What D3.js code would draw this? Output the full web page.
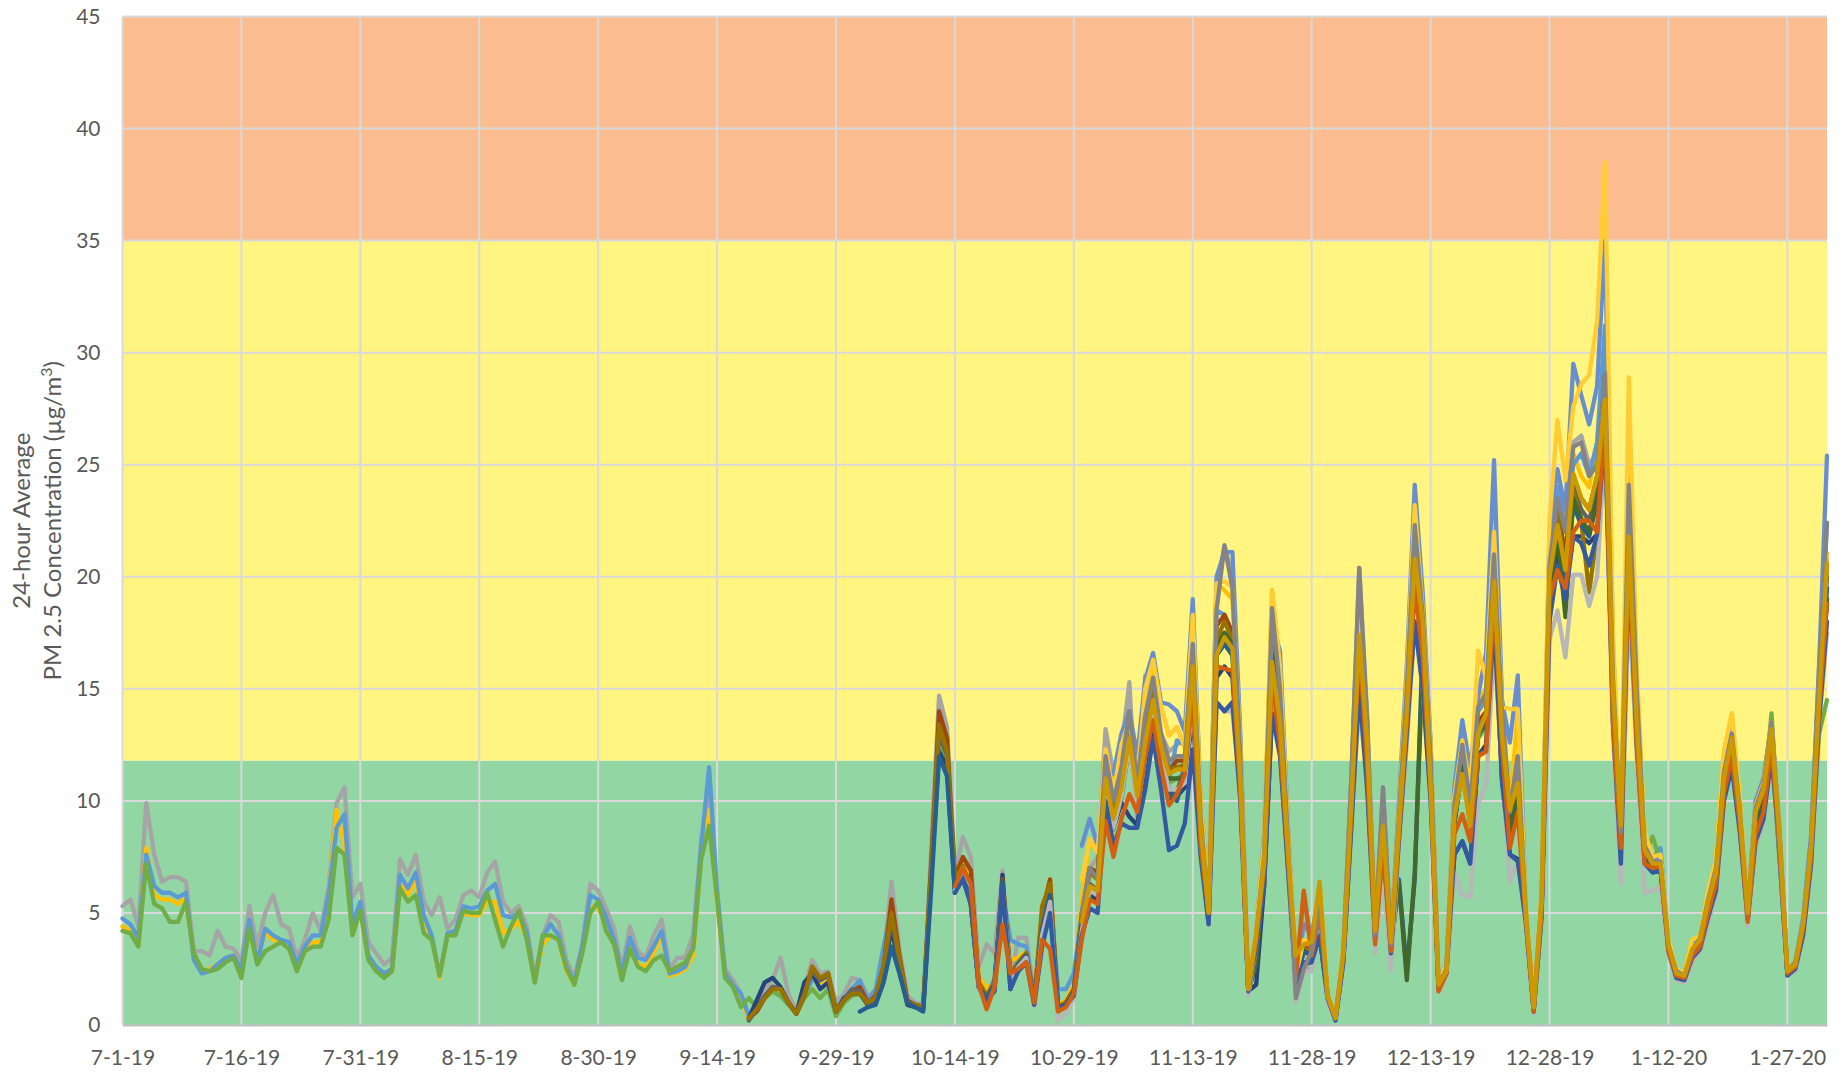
<!DOCTYPE html>
<html>
<head>
<meta charset="utf-8">
<script src="https://cdn.jsdelivr.net/npm/d3@7"></script>
<style>
  html, body { margin: 0; padding: 0; background: #fff; }
  svg text { font-family: Lato, "Open Sans", sans-serif; fill: #595959; }
</style>
</head>
<body>
<svg id="chart" width="1845" height="1074"></svg>
<script>
// tick labels
const xTickLabels = ["7-1-19", "7-16-19", "7-31-19", "8-15-19", "8-30-19", "9-14-19", "9-29-19",
  "10-14-19", "10-29-19", "11-13-19", "11-28-19", "12-13-19", "12-28-19", "1-12-20", "1-27-20"];
const yTicks = [0, 5, 10, 15, 20, 25, 30, 35, 40, 45];

// air quality bands (lower, upper)
const bandLimits = [[0, 11.8], [11.8, 35], [35, 45]];
const bandColors = ["#92D6A4", "#FFF580", "#FBBC8F"];

// first day of data and last day of axis
const firstDay = "7-1-19";
const lastDay = "2-1-20";

// daily 24-hour averages, one array per sensor, starting at the given day index
const s3 = [ // from day 0
  5.3,5.6,4.4,9.9,7.6,6.4,6.6,6.6,6.4,3.3,
  3.3,3.1,4.2,3.5,3.4,2.9,5.3,3.5,5.0,5.8,
  4.5,4.3,3.0,3.8,5.0,4.2,6.2,9.9,10.6,5.7,
  6.3,3.7,3.2,2.7,3.0,7.4,6.7,7.6,5.5,4.9,
  5.7,4.3,4.7,5.8,6.0,5.7,6.8,7.3,5.5,5.0,
  5.3,4.4,2.1,4.0,4.9,4.6,2.9,2.1,3.6,6.3,
  6.0,5.2,4.3,2.5,4.4,3.3,3.0,4.0,4.7,2.5,
  3.0,3.0,4.1,8.3,10.4,6.0,2.5,2.0,1.4,
  0.4,1.0,1.6,2.0,3.0,1.4,0.6,1.6,2.9,2.3,
  2.4,1.0,1.4,2.1,2.0,1.3,1.5,3.0,6.4,3.4,
  1.3,1.0,0.9,7.8,14.7,13.3,6.8,8.4,7.5,2.6,
  3.6,3.2,6.9,2.0,3.9,3.9,1.3,4.6,5.8,0.2,
  0.5,1.3,4.5,7.0,7.5,13.2,11.2,12.3,15.3,9.0,
  15.6,14.8,13.0,12.2,12.5,12.8,18.0,9.5,5.0,19.5,
  21.4,20.0,12.5,1.6,4.2,8.0,18.6,15.5,8.5,1.1,
  2.5,2.5,5.5,1.1,0.3,3.4,11.0,20.4,13.8,4.2,
  10.6,3.6,9.5,15.5,22.3,18.5,12.5,1.8,2.4,9.8,
  12.8,9.8,14.5,15.0,22.0,14.5,9.5,12.0,5.0,0.8,
  5.8,21.0,24.0,22.5,26.0,26.3,25.0,25.5,29.1,16.0,
  8.5,24.1,15.0,8.0,7.3,7.3,3.6,2.4,2.2,3.3,
  3.9,5.8,7.2,11.5,13.0,9.8,5.2,10.0,11.0,13.5,
  8.5,2.4,2.8,4.6,8.2,16.0,22.4];

const s4 = [ // from day 0
  4.4,4.2,3.6,7.9,5.8,5.6,5.6,5.4,5.7,3.0,
  2.4,2.5,2.7,3.0,3.1,2.4,4.3,3.0,4.1,3.8,
  3.7,3.6,2.6,3.3,3.7,3.7,5.8,9.6,8.0,4.3,
  5.3,3.0,2.5,2.2,2.4,6.4,5.8,6.4,4.7,3.9,
  2.1,4.1,4.2,5.0,4.9,4.9,5.5,5.5,4.1,4.3,
  4.6,3.9,1.9,3.6,4.0,3.8,2.4,1.8,3.3,5.3,
  5.2,4.6,3.6,2.1,3.5,2.7,2.6,3.2,4.0,2.2,
  2.3,2.5,3.1,7.6,9.6,5.5,2.2,1.8,1.1,
  0.3,0.8,1.3,1.6,1.5,1.0,0.5,1.3,2.4,1.9,
  2.1,0.5,1.0,1.4,1.5,0.8,1.1,2.3,4.8,2.8,
  1.0,0.9,0.8,7.0,13.8,12.6,6.4,7.4,6.5,2.2,
  1.6,2.0,6.5,2.9,3.0,3.3,1.4,5.0,6.5,0.9,
  1.1,1.8,5.6,8.3,7.7,12.3,10.3,12.5,13.6,11.0,
  14.0,16.3,14.2,12.9,13.3,12.4,18.3,10.0,5.4,19.7,
  19.4,19.0,12.5,1.7,4.2,8.0,19.4,16.0,8.5,2.2,
  3.8,3.5,5.8,1.3,0.3,3.3,10.5,19.5,13.0,4.2,
  9.6,3.7,9.5,15.5,23.2,18.5,12.5,1.9,2.5,10.0,
  12.7,10.0,14.5,15.0,21.0,14.0,9.8,13.9,5.3,0.9,
  5.8,21.5,24.0,22.0,25.5,24.5,24.0,26.0,30.0,15.5,
  8.8,24.0,14.5,8.2,7.3,7.4,3.6,2.4,2.3,3.8,
  4.0,5.9,7.3,12.2,13.9,10.0,5.1,9.8,10.8,13.5,
  8.7,2.5,2.8,4.7,8.2,15.5,21.0];

const s5 = [ // from day 0
  4.75,4.5,3.9,7.6,6.2,5.9,5.9,5.7,5.9,2.9,
  2.3,2.4,2.7,3.0,3.1,2.5,4.7,2.8,4.3,4.0,
  3.8,3.7,2.7,3.5,4.0,4.0,5.8,8.8,9.4,4.5,
  5.5,3.1,2.6,2.3,2.5,6.7,6.1,6.8,4.9,4.0,
  2.2,4.1,4.2,5.3,5.2,5.3,6.0,6.3,4.9,4.8,
  5.0,4.1,1.9,3.9,4.5,4.0,2.6,1.9,3.5,5.8,
  5.6,4.8,3.8,2.3,3.9,3.0,2.9,3.5,4.2,2.3,
  2.4,2.6,3.5,8.0,11.5,5.9,2.3,1.8,1.4,
  0.4,0.9,1.3,1.5,1.3,1.0,0.5,1.4,2.0,2.0,
  2.2,0.7,1.2,1.6,2.0,1.1,1.6,3.5,5.2,3.0,
  1.1,0.9,0.8,7.2,13.8,12.5,6.4,6.9,6.3,1.9,
  1.2,2.1,6.0,3.8,3.6,3.5,1.3,4.2,5.7,1.6,
  1.6,2.3,5.0,7.0,6.5,11.5,9.4,11.5,14.0,11.0,
  13.5,15.0,12.5,10.9,12.7,12.5,17.0,9.2,5.2,18.5,
  18.3,17.5,11.5,1.6,4.0,7.8,18.0,15.0,8.3,2.0,
  5.9,3.5,5.6,1.3,0.4,3.3,10.2,19.0,13.0,4.1,
  9.8,3.6,9.2,15.0,22.0,18.0,12.0,1.8,2.5,9.8,
  12.5,10.0,14.0,14.5,21.0,13.8,9.5,12.0,5.1,0.8,
  5.6,20.5,24.0,22.0,25.0,25.5,24.5,26.0,31.2,16.5,
  8.6,25.0,14.5,8.0,7.4,7.9,3.6,2.4,2.2,3.3,
  3.9,5.6,6.9,11.2,13.0,9.6,5.1,9.6,10.6,13.3,
  8.6,2.4,2.7,4.5,8.0,15.0,21.0];

const s6 = [ // from day 0
  4.2,4.1,3.5,7.2,5.4,5.2,4.6,4.6,5.5,3.2,
  2.5,2.4,2.5,2.8,3.0,2.1,4.3,2.7,3.3,3.5,
  3.7,3.4,2.4,3.3,3.5,3.5,4.7,7.9,7.6,4.0,
  5.1,2.9,2.4,2.1,2.4,6.1,5.5,5.8,4.1,3.8,
  2.2,4.0,4.0,5.1,5.0,5.0,5.9,4.7,3.5,4.4,
  5.1,3.8,1.9,4.0,4.0,3.8,2.5,1.8,3.2,5.0,
  5.5,4.2,3.6,2.0,3.4,2.6,2.4,2.9,3.1,2.4,
  2.6,2.8,3.4,7.4,8.9,5.6,2.1,1.7,0.8,
  1.2,0.8,1.2,1.5,1.3,0.9,0.5,1.2,1.6,1.2,
  1.6,0.4,1.0,1.3,1.4,0.9,1.1,2.3,4.7,2.8,
  1.0,0.9,0.8,6.7,12.8,11.7,6.0,6.8,6.1,1.8,
  1.3,1.9,6.2,2.3,2.7,3.1,1.0,4.3,5.6,0.9,
  0.9,1.5,4.0,5.8,5.8,10.3,8.7,10.0,12.6,9.8,
  12.2,14.0,12.0,10.8,11.0,11.2,15.6,8.5,4.8,16.5,
  17.0,16.5,11.0,1.5,3.8,7.2,16.5,13.2,7.6,1.9,
  3.3,3.1,5.2,1.2,0.3,3.0,9.5,17.0,11.8,3.8,
  8.6,3.4,8.5,13.8,19.8,16.5,11.0,1.7,2.4,9.0,
  11.4,9.0,12.8,13.3,19.4,12.8,8.5,10.5,4.8,0.7,
  5.2,19.0,21.8,20.0,23.5,22.5,22.0,23.5,27.8,14.3,
  7.4,22.0,13.5,7.6,8.4,7.3,3.4,2.2,2.1,3.2,
  3.6,5.3,6.5,10.5,12.3,9.1,4.8,9.1,10.1,13.9,
  8.2,2.3,2.6,4.3,7.7,13.0,14.5];

const s7 = [ // from day 79
  0.3,1.1,1.9,2.1,1.7,1.0,0.5,1.9,2.3,1.6,
  1.9,0.6,1.2,1.4,1.4,0.9,1.1,2.0,4.4,2.4,
  0.9,0.8,0.7,6.6,12.2,11.5,5.9,6.6,5.4,1.7,
  1.1,1.6,6.7,1.6,2.6,3.0,0.9,3.8,5.5,0.7,
  0.9,1.4,4.2,5.8,5.5,10.8,8.8,9.9,9.3,8.9,
  11.5,13.0,11.5,10.0,10.2,10.6,14.0,8.0,4.5,15.5,
  16.0,15.5,10.5,1.5,1.8,6.2,13.9,12.5,7.2,1.8,
  2.8,2.8,4.0,1.2,0.2,2.9,9.0,16.0,11.0,4.0,
  8.2,3.3,8.3,13.5,18.0,15.5,10.5,1.7,2.4,7.6,
  8.2,7.2,12.0,12.5,18.5,10.9,7.6,7.4,4.8,0.7,
  5.0,18.5,21.0,19.5,21.8,21.8,21.5,21.9,26.5,14.0,
  7.2,21.0,13.0,7.2,7.2,7.0,3.4,2.2,2.1,3.1,
  3.5,5.0,6.3,10.3,12.0,9.0,4.6,8.8,9.8,12.5,
  7.5,2.3,2.6,4.3,7.5,14.0,19.0];

const s8 = [ // from day 79
  0.3,0.6,1.2,1.7,1.6,1.0,0.5,1.3,2.6,2.0,
  2.3,0.6,1.1,1.5,1.7,1.0,1.3,2.6,5.6,3.1,
  1.1,0.9,0.8,7.2,14.0,12.8,6.6,7.5,6.9,1.9,
  1.3,1.9,6.5,2.2,2.8,3.2,1.1,5.0,6.5,0.8,
  1.0,1.6,4.8,7.0,6.8,11.8,9.5,11.0,13.0,10.5,
  13.0,15.0,12.5,11.3,11.8,11.8,16.5,9.0,5.0,17.8,
  18.3,17.5,11.5,1.6,4.0,7.5,17.5,14.0,8.0,2.0,
  3.5,3.3,5.5,1.3,0.3,3.2,10.0,18.0,12.5,4.0,
  9.0,3.5,9.0,14.5,21.0,17.5,11.5,1.8,2.5,9.5,
  12.0,9.5,13.5,14.0,20.5,13.5,9.0,11.0,5.0,0.8,
  5.5,20.0,23.0,21.0,24.5,23.5,23.0,24.5,29.0,15.0,
  8.5,23.0,14.0,8.0,7.2,7.2,3.5,2.3,2.2,3.3,
  3.8,5.5,6.8,11.0,12.8,9.5,5.0,9.5,10.5,13.2,
  8.5,2.4,2.7,4.5,8.0,15.0,21.0];

const s9 = [ // from day 79
  0.2,0.7,1.3,1.7,1.6,1.0,0.5,1.4,2.4,2.0,
  2.2,0.6,1.1,1.6,1.5,0.9,1.2,2.4,4.7,2.8,
  1.0,0.9,0.8,6.8,13.0,12.0,6.1,6.8,5.4,1.8,
  1.2,1.8,6.3,2.2,2.7,3.1,1.0,4.4,5.9,0.8,
  1.0,1.5,4.6,6.3,6.0,11.2,9.2,10.7,13.0,10.2,
  12.6,14.6,12.4,10.2,10.4,11.5,16.0,8.8,4.9,17.0,
  17.5,17.0,11.2,1.6,3.9,7.3,17.0,13.6,7.8,1.9,
  3.3,3.2,5.4,1.3,0.3,3.1,9.7,17.5,12.2,3.9,
  8.8,3.4,8.7,14.0,20.5,17.0,11.2,1.7,2.4,9.2,
  11.6,9.2,13.0,13.6,20.0,13.0,8.8,10.7,4.9,0.7,
  5.4,19.5,22.5,20.5,24.0,23.0,22.5,24.0,28.3,14.6,
  8.2,22.5,13.6,7.8,7.1,7.1,3.4,2.2,2.1,3.2,
  3.7,5.3,6.6,10.7,12.5,9.2,4.8,9.2,10.2,12.8,
  8.2,2.3,2.6,4.4,7.8,14.5,20.0];

const s10 = [ // from day 79
  0.3,0.7,1.2,1.6,1.6,1.0,0.5,1.3,2.6,2.1,
  2.3,0.6,1.1,1.4,1.4,1.0,1.2,2.7,5.0,3.0,
  1.0,0.9,0.8,7.0,13.4,12.2,6.5,7.1,6.2,1.9,
  1.3,1.9,6.4,2.3,2.8,3.2,1.1,5.3,6.3,0.8,
  1.0,1.6,4.9,6.8,6.5,11.5,9.8,11.2,13.2,10.6,
  13.2,15.2,12.6,11.4,11.5,11.6,16.3,8.8,5.0,17.2,
  18.0,17.2,11.3,1.6,4.0,7.4,17.3,13.8,7.9,2.0,
  3.4,3.3,5.5,1.3,0.3,3.2,9.8,17.8,12.3,4.0,
  8.9,3.5,8.8,14.3,20.8,17.3,11.3,1.8,2.5,9.4,
  11.8,9.3,13.3,13.8,20.2,13.3,8.9,10.8,5.0,0.8,
  5.4,19.8,22.8,20.3,23.8,22.5,19.3,22.0,28.0,14.8,
  8.4,22.8,13.8,7.9,7.1,7.1,3.5,2.3,2.2,3.3,
  3.8,5.4,6.7,10.8,12.6,9.4,4.9,9.4,10.4,13.0,
  8.4,2.4,2.7,4.4,7.9,14.8,20.5];

const s11 = [ // from day 93
  0.6,0.8,0.9,1.9,3.5,2.3,
  1.0,0.8,0.6,6.0,12.0,11.1,5.9,6.8,6.0,1.7,
  1.2,1.8,6.4,2.0,2.7,3.1,1.0,4.3,5.8,0.8,
  0.9,1.5,4.5,6.2,5.9,11.0,9.0,10.5,12.8,10.0,
  12.5,14.3,12.2,10.5,10.0,11.2,15.5,8.5,4.7,16.5,
  17.0,16.5,11.0,1.5,3.8,7.0,16.5,13.3,7.6,1.9,
  3.3,3.1,5.2,1.2,0.3,3.0,9.5,17.2,12.0,3.9,
  8.6,3.4,6.5,2.4,6.5,17.0,11.0,1.7,2.4,9.0,
  11.5,9.0,13.0,13.4,19.5,12.8,8.6,10.4,4.8,0.7,
  5.2,19.2,22.0,19.8,23.2,22.3,21.8,23.4,27.5,14.3,
  8.0,22.0,13.3,7.6,7.0,7.0,3.3,2.2,2.1,3.1,
  3.6,5.2,6.5,10.5,12.2,9.0,4.7,9.0,10.0,12.6,
  8.0,2.3,2.6,4.3,7.6,14.3,19.5];

const s12 = [ // from day 121
  5.0,6.0,5.8,10.8,8.8,10.2,12.5,9.8,12.2,14.2,
  12.0,11.0,11.0,11.0,15.8,8.6,4.8,16.8,17.5,17.0,
  11.0,1.5,2.7,6.8,16.5,13.5,7.6,1.9,2.7,2.8,
  5.2,1.2,0.3,3.0,9.5,17.2,12.0,3.9,8.8,3.4,
  6.4,2.0,6.8,16.0,11.0,1.7,2.4,9.0,11.5,9.0,
  13.0,13.5,19.8,12.8,8.6,10.5,4.8,0.7,5.2,19.0,
  22.0,18.2,23.5,22.6,22.0,23.5,28.0,14.5,8.2,22.0,
  13.5,7.7,7.0,7.0,3.4,2.2,2.1,3.2,3.7,5.3,
  6.5,10.5,12.3,9.2,4.8,9.2,10.2,13.0,8.2,2.3,
  2.6,4.3,7.7,14.0,19.0];

const s13 = [ // from day 121
  8.0,9.2,8.0,11.5,11.2,13.0,14.0,12.0,15.4,16.6,
  14.4,14.3,14.0,13.1,19.0,10.0,5.5,20.0,21.1,21.1,
  13.0,1.7,4.2,8.5,17.9,16.7,9.0,2.2,4.5,4.0,
  6.0,1.4,0.3,3.4,11.0,19.5,13.5,4.2,9.8,3.8,
  10.0,16.0,24.1,19.3,12.6,1.9,2.6,10.6,13.6,11.4,
  14.7,16.6,25.2,14.5,12.6,15.6,5.2,0.8,5.8,22.0,
  24.8,23.0,29.5,28.1,26.8,28.5,35.0,17.0,8.6,24.0,
  15.0,8.0,7.3,7.5,3.6,2.4,2.3,3.5,4.0,5.8,
  7.0,11.5,13.3,10.0,5.2,10.0,11.0,13.5,8.8,2.5,
  2.8,4.8,8.5,16.0,25.4];

const s15 = [ // from day 105
  6.0,7.0,6.2,1.6,
  1.0,1.6,6.0,2.0,2.6,3.0,0.8,4.0,5.5,0.2,
  0.5,1.2,4.2,6.0,5.8,10.5,8.8,10.2,12.5,9.5,
  12.0,13.8,12.0,10.5,10.5,10.8,14.5,8.3,4.5,14.4,
  14.0,14.0,10.5,1.3,3.5,6.5,15.0,12.5,7.0,1.0,
  2.4,2.4,4.8,1.0,0.2,2.8,9.0,14.3,11.0,3.2,
  6.8,2.4,8.0,12.5,18.0,15.0,10.0,1.5,2.2,6.8,
  5.8,5.7,9.9,10.7,17.0,11.5,6.4,7.3,4.5,0.5,
  4.8,17.2,18.5,16.4,20.1,20.1,18.7,20.0,26.0,13.0,
  6.3,19.0,12.0,5.9,6.0,6.2,3.2,2.0,1.9,2.8,
  3.3,4.6,5.8,10.0,12.0,8.5,4.4,8.0,9.0,12.0,
  7.8,2.2,2.4,4.0,7.0,13.5,17.5];

const s16 = [ // from day 121
  6.5,8.3,7.7,12.3,10.3,12.5,13.6,11.0,15.0,16.3,
  14.2,12.9,13.3,12.4,18.3,10.0,5.4,19.7,19.8,19.5,
  12.5,1.7,4.2,8.3,19.4,16.0,8.8,2.2,3.8,3.6,
  6.3,1.4,0.4,3.5,10.5,19.5,13.0,4.2,9.6,3.8,
  9.6,15.5,23.2,18.5,12.5,2.0,2.6,10.2,12.7,10.5,
  16.7,15.5,22.0,14.2,14.1,14.1,5.3,0.9,6.0,22.5,
  27.0,24.3,27.6,28.6,29.0,31.4,38.5,17.5,9.0,28.9,
  16.0,8.6,7.5,7.6,3.8,2.5,2.3,3.8,4.0,6.0,
  7.4,12.2,13.9,10.2,5.2,9.8,10.8,13.5,8.7,2.5,
  2.8,4.6,8.0,15.0,21.0];

const s19 = [ // from day 105
  5.9,6.5,5.4,1.7,
  1.1,1.5,6.2,1.6,2.4,2.8,0.9,3.5,5.0,0.7,
  0.9,1.3,4.0,5.2,5.0,10.0,8.0,9.0,8.8,8.8,
  10.5,12.8,10.5,7.8,8.0,9.0,12.3,7.5,4.5,14.4,
  14.0,14.4,10.0,1.5,3.5,6.2,13.9,12.0,7.0,1.8,
  2.8,2.8,4.0,1.2,0.2,2.8,8.8,15.0,10.5,3.8,
  8.0,3.2,8.2,13.0,18.0,15.0,10.0,1.6,2.3,7.6,
  8.2,7.2,12.0,12.3,18.0,11.0,7.6,7.3,4.6,0.6,
  4.8,18.0,20.5,19.0,21.8,21.5,20.5,21.9,26.5,13.5,
  7.2,20.5,12.5,7.2,6.8,6.9,3.3,2.1,2.0,3.0,
  3.4,4.8,6.0,10.0,11.5,8.6,4.7,8.2,9.2,12.0,
  8.0,2.2,2.5,4.0,7.2,13.5,18.0];

const s20 = [ // from day 105
  6.2,7.0,6.3,1.8,
  0.7,1.7,4.5,2.3,2.5,2.8,1.0,3.8,3.4,0.6,
  0.8,1.4,3.8,5.6,5.4,9.1,7.5,9.2,10.3,9.5,
  12.0,13.6,11.5,9.8,10.3,11.2,14.7,8.0,5.0,16.0,
  15.9,15.8,10.5,1.6,3.8,7.0,15.5,12.5,7.5,2.0,
  6.0,3.1,5.0,1.3,0.3,3.1,9.5,17.0,11.5,3.6,
  8.0,3.3,8.5,13.5,19.5,16.5,10.5,1.5,2.3,8.5,
  9.4,8.2,12.0,12.2,19.0,12.5,7.9,9.5,4.8,0.6,
  5.0,19.0,20.3,19.5,22.0,22.5,22.5,22.0,27.0,13.5,
  7.9,21.0,12.5,7.2,7.0,7.1,3.3,2.2,2.1,3.1,
  3.5,5.0,6.3,10.3,12.0,9.0,4.6,8.5,9.5,12.5,
  8.0,2.3,2.6,4.3,7.5,14.0,18.8];

const s21 = [ // from day 121
  5.0,7.0,6.5,12.0,10.0,11.5,14.0,10.8,13.8,15.5,
  13.0,11.8,12.0,12.0,17.0,9.3,5.0,18.5,21.4,19.5,
  12.0,1.6,4.0,7.6,18.6,15.0,8.3,1.2,2.5,3.3,
  5.5,1.3,0.3,3.3,11.0,20.4,13.5,4.0,10.6,3.6,
  9.3,15.0,22.3,18.3,12.0,1.8,2.5,9.8,12.5,9.8,
  14.2,14.8,21.0,14.0,9.5,12.0,5.1,0.8,5.7,20.5,
  23.5,22.0,25.8,26.0,24.5,25.0,29.1,15.5,8.6,24.1,
  15.0,8.0,7.3,7.3,3.6,2.4,2.2,3.3,3.9,5.6,
  7.0,11.3,13.0,9.7,5.0,9.7,10.7,13.5,8.6,2.4,
  2.8,4.6,8.2,15.5,22.4];

const s22 = [ // from day 121
  4.6,6.2,6.0,11.0,9.2,10.6,12.8,10.2,12.6,14.5,
  12.4,11.2,11.4,11.4,16.0,8.8,5.0,16.5,17.3,16.8,
  11.0,1.6,4.0,7.3,16.2,13.5,7.8,3.1,3.6,3.7,
  6.4,1.3,0.3,3.2,9.8,17.4,12.6,4.2,8.9,3.7,
  8.8,14.0,20.8,18.0,10.7,1.8,2.4,9.3,11.2,8.9,
  13.0,13.9,19.8,13.0,9.6,10.8,5.0,0.8,5.6,20.0,
  22.3,20.3,24.6,23.5,23.0,24.5,27.9,15.0,8.9,21.8,
  13.5,7.8,7.2,7.2,3.6,2.3,2.2,3.4,3.8,5.5,
  6.8,11.0,12.8,9.5,5.0,9.5,10.5,13.2,8.5,2.4,
  2.7,4.5,8.0,14.5,20.6];

// series in drawing order (later ones on top)
const seriesTable = [
  { values: s3,  start: 0,   color: "#A5A5A5" },
  { values: s4,  start: 0,   color: "#FFC000" },
  { values: s5,  start: 0,   color: "#5B9BD5" },
  { values: s6,  start: 0,   color: "#70AD47" },
  { values: s7,  start: 79,  color: "#264478" },
  { values: s8,  start: 79,  color: "#9E480E" },
  { values: s9,  start: 79,  color: "#636363" },
  { values: s10, start: 79,  color: "#997300" },
  { values: s11, start: 93,  color: "#255E91" },
  { values: s12, start: 121, color: "#43682B" },
  { values: s13, start: 121, color: "#698ED0" },
  { values: s15, start: 105, color: "#B7B7B7" },
  { values: s16, start: 121, color: "#FFCD33" },
  { values: s19, start: 105, color: "#335AA1" },
  { values: s20, start: 105, color: "#D26012" },
  { values: s21, start: 121, color: "#848484" },
  { values: s22, start: 121, color: "#CC9A00" }
];

// layout
const margin = { top: 16.5, right: 18, bottom: 49, left: 122.5 },
  W = 1845, H = 1074,
  width = W - margin.left - margin.right,
  height = H - margin.top - margin.bottom;

const parse = d3.utcParse("%m-%d-%y");
const t0 = parse(firstDay);
const dayMs = 864e5;
const dayDate = i => new Date(t0.getTime() + i * dayMs);

const svg = d3.select("#chart");
const g = svg.append("g").attr("transform", `translate(${margin.left},${margin.top})`);

const x = d3.scaleUtc().domain([t0, parse(lastDay)]).range([0, width]);
const y = d3.scaleLinear().domain([0, 45]).range([height, 0]);

// coloured bands
g.selectAll("rect.band")
  .data(bandLimits)
  .enter().append("rect")
  .attr("class", "band")
  .attr("x", 0)
  .attr("width", width)
  .attr("y", d => y(d[1]))
  .attr("height", d => y(d[0]) - y(d[1]))
  .attr("fill", (d, i) => bandColors[i]);

// gridlines
const xTickDates = xTickLabels.map(parse);
g.append("g")
  .selectAll("line")
  .data(yTicks.filter(v => v > 0))
  .enter().append("line")
  .attr("x1", 0).attr("x2", width)
  .attr("y1", d => y(d)).attr("y2", d => y(d))
  .attr("stroke", "#D9D9D9").attr("stroke-width", 2);
g.append("g")
  .selectAll("line")
  .data(xTickDates)
  .enter().append("line")
  .attr("x1", d => x(d)).attr("x2", d => x(d))
  .attr("y1", 0).attr("y2", height)
  .attr("stroke", "#D9D9D9").attr("stroke-width", 2);

// axes
const xAxis = g.append("g")
  .attr("transform", `translate(0,${height})`)
  .call(d3.axisBottom(x).tickValues(xTickDates).tickSize(0).tickPadding(25)
    .tickFormat((d, i) => xTickLabels[i]));
xAxis.select(".domain").attr("stroke", "#BFBFBF").attr("stroke-width", 2);
xAxis.selectAll("text").style("font-size", "21px").attr("fill", "#595959");

const yAxis = g.append("g")
  .call(d3.axisLeft(y).tickValues(yTicks).tickSize(0).tickPadding(22));
yAxis.select(".domain").remove();
yAxis.selectAll("text").style("font-size", "21px").attr("fill", "#595959");

// lines
const line = d3.line()
  .defined(d => d.v != null)
  .x(d => x(d.date))
  .y(d => y(d.v));

const lines = g.append("g").attr("class", "series");
lines.selectAll("path")
  .data(seriesTable)
  .enter().append("path")
  .attr("d", s => line(s.values.map((v, i) => ({ date: dayDate(s.start + i), v: v }))))
  .attr("stroke", s => s.color)
  .attr("fill", "none")
  .attr("stroke-width", 4.3)
  .attr("stroke-linejoin", "round")
  .attr("stroke-linecap", "round");

// y axis title
const title = svg.append("text")
  .attr("transform", `translate(0,${margin.top + height / 2}) rotate(-90)`)
  .attr("text-anchor", "middle")
  .style("font-size", "24px");
title.append("tspan").attr("x", 0).attr("y", 30).text("24-hour Average");
const t2 = title.append("tspan").attr("x", 0).attr("y", 61).text("PM 2.5 Concentration (µg/m");
t2.append("tspan").attr("dy", -9).style("font-size", "16px").text("3");
t2.append("tspan").attr("dy", 9).text(")");
</script>
</body>
</html>
